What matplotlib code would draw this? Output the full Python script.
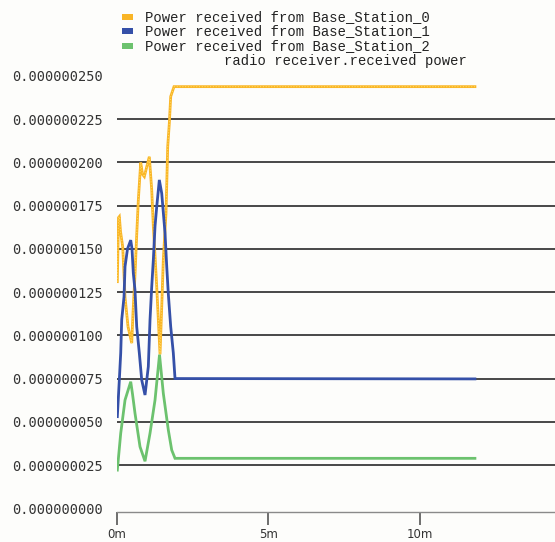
import matplotlib
matplotlib.use("Agg")
import matplotlib.pyplot as plt
from matplotlib.patches import Rectangle

# ---- data (time in minutes, received power in W) ----
t_bs0 = [0.020, 0.059, 0.086, 0.125, 0.198, 0.274, 0.373, 0.495, 0.537, 0.603,
         0.659, 0.712, 0.791, 0.851, 0.910, 0.999, 1.075, 1.154, 1.207, 1.263,
         1.319, 1.372, 1.428, 1.484, 1.536, 1.625, 1.681, 1.734, 1.780, 1.889, 11.81]
p_bs0 = [0.131, 0.168, 0.1686, 0.160, 0.151, 0.122, 0.105, 0.0955, 0.113, 0.135,
         0.158, 0.178, 0.1998, 0.193, 0.1917, 0.198, 0.2032, 0.184, 0.163, 0.146,
         0.128, 0.109, 0.0890, 0.1165, 0.1435, 0.1707, 0.209, 0.2225, 0.238, 0.2437, 0.2437]

t_bs1 = [0.020, 0.086, 0.132, 0.165, 0.241, 0.274, 0.356, 0.462, 0.504, 0.547,
         0.603, 0.659, 0.745, 0.824, 0.933, 1.042, 1.098, 1.154, 1.207, 1.263,
         1.319, 1.405, 1.484, 1.593, 1.649, 1.701, 1.780, 1.866, 1.922, 11.81]
p_bs1 = [0.053, 0.0742, 0.0898, 0.109, 0.1223, 0.1397, 0.150, 0.155, 0.150, 0.136,
         0.126, 0.105, 0.0898, 0.0742, 0.0655, 0.0819, 0.109, 0.128, 0.1435, 0.163,
         0.1743, 0.1898, 0.182, 0.159, 0.1397, 0.124, 0.105, 0.0898, 0.0750, 0.0748]

t_bs2 = [0.020, 0.132, 0.274, 0.462, 0.521, 0.603, 0.768, 0.933, 1.098, 1.263,
         1.411, 1.536, 1.701, 1.813, 1.922, 11.81]
p_bs2 = [0.0221, 0.0434, 0.0626, 0.0732, 0.066, 0.0549, 0.0356, 0.0272, 0.0434, 0.0626,
         0.0888, 0.0665, 0.0453, 0.0337, 0.0289, 0.0289]

series_names = ["Power received from Base_Station_0",
                "Power received from Base_Station_1",
                "Power received from Base_Station_2"]
y_title = "radio receiver.received power"
y_ticks = [0.000, 0.025, 0.050, 0.075, 0.100, 0.125, 0.150, 0.175, 0.200, 0.225, 0.250]
x_ticks = [0, 5, 10]
x_tick_labels = ["0m", "5m", "10m"]

SCALE = 1e-6
BG = "#fdfdfb"
C_ORANGE = "#f9b526"
C_ORANGE_HI = "#ffd95e"
C_BLUE = "#3550a8"
C_GREEN = "#6cc26e"

fig = plt.figure(figsize=(5.55, 5.42), dpi=100, facecolor=BG)
ax = fig.add_axes([0.2103, 0.0554, 0.7897, 0.8256], facecolor=BG)

ax.set_xlim(0, 14.45)
ax.set_ylim(-0.0021 * SCALE, 0.2565 * SCALE)

# horizontal grid between the first and last tick
for v in y_ticks[1:-1]:
    ax.axhline(v * SCALE, color="#3a3a3a", lw=1.3, zorder=1)

ys0 = [v * SCALE for v in p_bs0]
ys1 = [v * SCALE for v in p_bs1]
ys2 = [v * SCALE for v in p_bs2]

ax.plot(t_bs0, ys0, color=C_ORANGE, lw=2.0, zorder=3, solid_joinstyle="miter")
ax.plot(t_bs0, ys0, color=C_ORANGE_HI, lw=0.8, ls=(0, (1, 1.5)), zorder=3.1)
ax.plot(t_bs1, ys1, color=C_BLUE, lw=2.0, zorder=4, solid_joinstyle="miter")
ax.plot(t_bs2, ys2, color=C_GREEN, lw=2.0, zorder=5, solid_joinstyle="miter")

for s in ["top", "right", "left"]:
    ax.spines[s].set_visible(False)
ax.spines["bottom"].set_color("#8a8a8a")
ax.spines["bottom"].set_linewidth(1.0)

ax.set_yticks([v * SCALE for v in y_ticks])
ax.set_yticklabels([f"{v * SCALE:.9f}" for v in y_ticks],
                   fontfamily="DejaVu Sans Mono", fontsize=9.8, color="#333333")
ax.tick_params(axis="y", length=0, pad=10)

ax.set_xticks(x_ticks)
ax.set_xticklabels(x_tick_labels, fontfamily="DejaVu Sans", fontsize=8.5, color="#333333")
ax.tick_params(axis="x", length=9.5, width=1.2, color="#555555", pad=2)

# legend block above the plot
rows_y = [17, 31, 46]
colors = [C_ORANGE, C_BLUE, C_GREEN]
H = 542.0
for yy, col, name in zip(rows_y, colors, series_names):
    fig.patches.append(Rectangle((122 / 555, (H - yy - 3) / H), 11 / 555, 6 / H,
                                 transform=fig.transFigure, facecolor=col,
                                 edgecolor="none"))
    fig.text(145 / 555, (H - yy) / H, name, fontfamily="Liberation Mono",
             fontsize=10, color="#222222", va="center", ha="left")
fig.text(467 / 555, (H - 61) / H, y_title, fontfamily="Liberation Mono",
         fontsize=10, color="#222222", va="center", ha="right")

fig.savefig("out.png", dpi=100, facecolor=BG)
